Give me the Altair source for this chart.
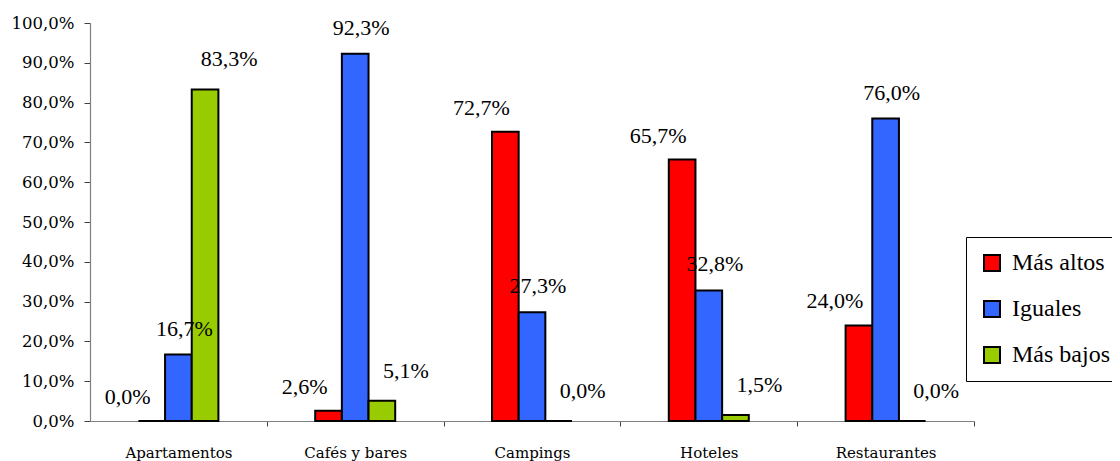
import altair as alt
import pandas as pd

categories = ["Apartamentos", "Cafés y bares", "Campings", "Hoteles", "Restaurantes"]
series = ["Más altos", "Iguales", "Más bajos"]
mas_altos = [0.0, 2.6, 72.7, 65.7, 24.0]
iguales = [16.7, 92.3, 27.3, 32.8, 76.0]
mas_bajos = [83.3, 5.1, 0.0, 1.5, 0.0]
colors = ["#FF0000", "#3366FF", "#99CC00"]
y_ticks = [i / 10 for i in range(11)]

rows = []
for s, vals in zip(series, [mas_altos, iguales, mas_bajos]):
    for c, v in zip(categories, vals):
        rows.append({"cat": c, "serie": s, "valor": v / 100,
                     "etiqueta": f"{v:.1f}%".replace(".", ",")})
df = pd.DataFrame(rows)

FONT = "DejaVu Serif"
FONT2 = "Liberation Serif"
W, H = 884, 398
STEP = W / len(categories)

x_enc = alt.X("cat:N", sort=categories,
              scale=alt.Scale(paddingInner=0.5475, paddingOuter=0.27375),
              axis=alt.Axis(title=None, labelAngle=0, tickOffset=STEP / 2,
                            labelOffset=-STEP / 2,
                            tickSize=5, labelPadding=19, labelFontSize=15,
                            labelBaseline="top"))
xo_enc = alt.XOffset("serie:N", sort=series,
                     scale=alt.Scale(domain=series, paddingOuter=0, paddingInner=0))
y_enc = alt.Y("valor:Q", scale=alt.Scale(domain=[0, 1], nice=False),
              axis=alt.Axis(title=None, values=y_ticks, grid=False, tickSize=6,
                            labelPadding=10, labelFontSize=16.5,
                            labelExpr="replace(format(datum.value, '.1%'), '.', ',')"))

bars = alt.Chart(df).mark_bar(stroke="black", strokeWidth=2).encode(
    x=x_enc, xOffset=xo_enc, y=y_enc,
    color=alt.Color("serie:N", sort=series,
                    scale=alt.Scale(domain=series, range=colors),
                    legend=alt.Legend(title=None, orient="none", legendX=876, legendY=214,
                                      strokeColor="black", fillColor="white",
                                      padding=14, rowPadding=22, labelFontSize=24,
                                      labelFont=FONT2, symbolType="square",
                                      symbolSize=256, symbolStrokeColor="black",
                                      symbolStrokeWidth=2, labelOffset=8,
                                      labelColor="black", labelLimit=300))
)

label_dx = {"Más altos": -24, "Iguales": 6, "Más bajos": 24}
label_dy = {"Más altos": -24, "Iguales": -26, "Más bajos": -30}

texts = []
for s in series:
    texts.append(
        alt.Chart(df).transform_filter(alt.datum.serie == s)
        .mark_text(font=FONT2, fontSize=22, baseline="middle", align="center",
                   dx=label_dx[s], dy=label_dy[s], color="black")
        .encode(x=x_enc, xOffset=xo_enc, y=y_enc, text="etiqueta:N")
    )

chart = alt.layer(bars, *texts).properties(
    width=W, height=H,
    autosize=alt.AutoSizeParams(type="none"),
    padding={"left": 82, "top": 15, "right": 138, "bottom": 40},
    background="white",
).configure_view(stroke=None).configure_axis(
    labelFont=FONT, labelColor="black", domainColor="#808080",
    tickColor="#404040", domainWidth=1.2,
)

chart.save("out.html", embed_options={"renderer": "svg", "actions": False})
